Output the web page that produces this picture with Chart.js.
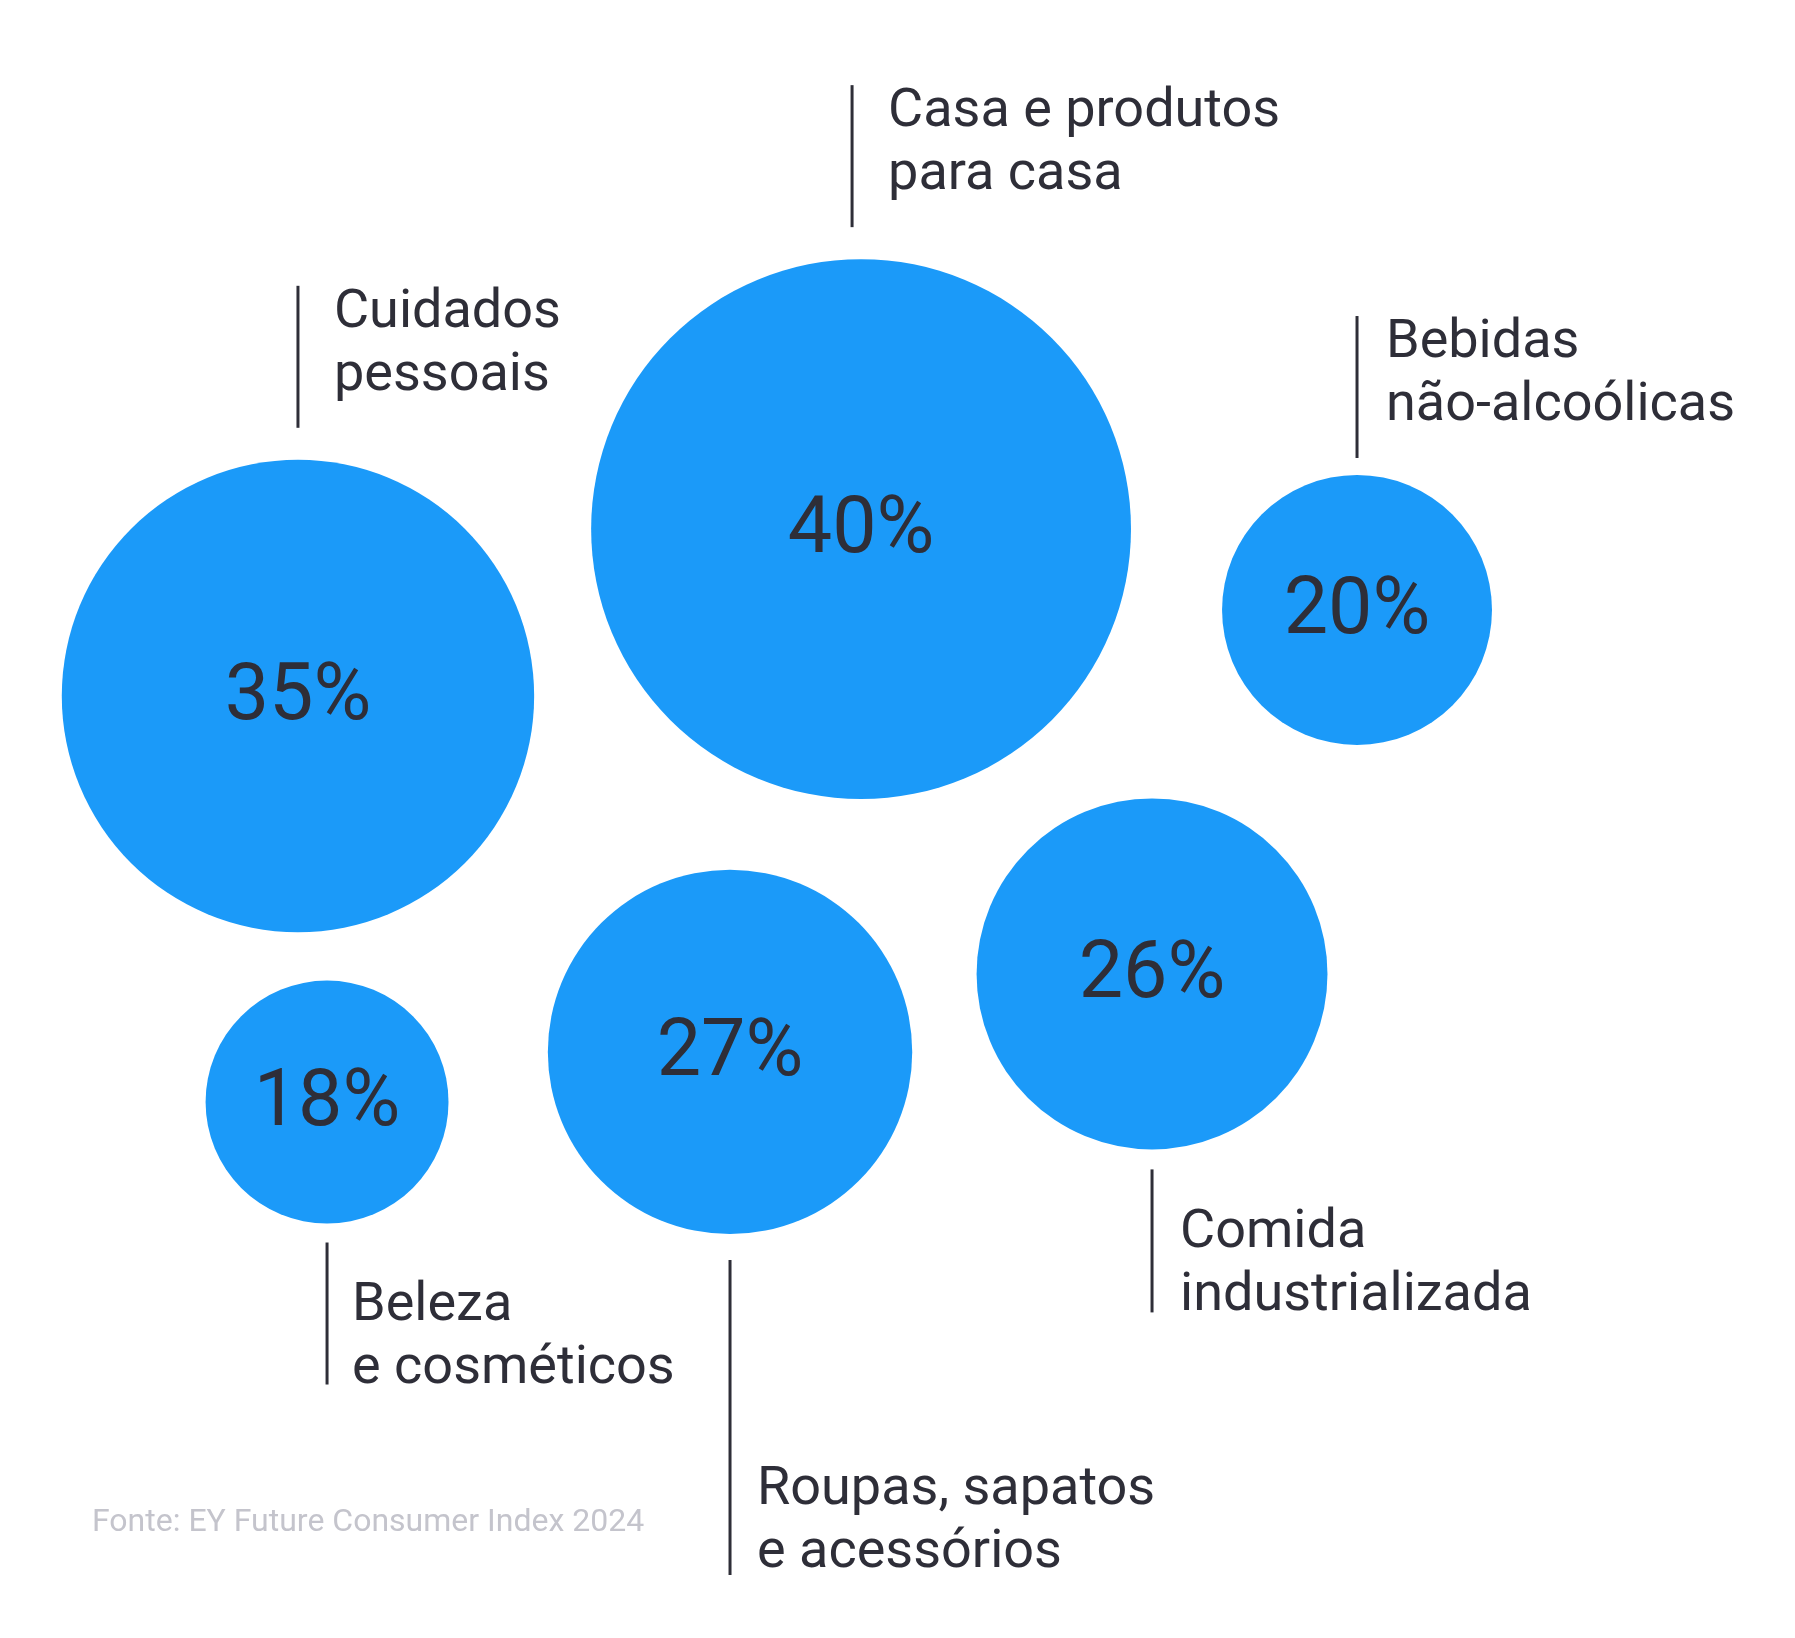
<!DOCTYPE html>
<html>
<head>
<meta charset="utf-8">
<script src="https://cdn.jsdelivr.net/npm/chart.js@4/dist/chart.umd.min.js"></script>
<style>
  html, body { margin: 0; padding: 0; background: #ffffff; }
  #wrap { position: relative; width: 1795px; height: 1638px; }
  canvas { display: block; }
</style>
</head>
<body>
<div id="wrap"><canvas id="c" width="1795" height="1638"></canvas></div>
<script>
// ---- Data ----
const categories = ['Cuidados pessoais', 'Casa e produtos para casa', 'Bebidas não-alcoólicas', 'Beleza e cosméticos', 'Roupas, sapatos e acessórios', 'Comida industrializada'];
const labelLines = [['Cuidados', 'pessoais'], ['Casa e produtos', 'para casa'], ['Bebidas', 'não-alcoólicas'], ['Beleza', 'e cosméticos'], ['Roupas, sapatos', 'e acessórios'], ['Comida', 'industrializada']];
const values = [35, 40, 20, 18, 27, 26];
const xPos = [16.60, 47.97, 75.60, 18.22, 40.67, 64.18];
const yPos = [42.49, 32.30, 37.24, 67.28, 64.22, 59.46];
const sourceText = 'Fonte: EY Future Consumer Index 2024';

// ---- Layout / style (not data) ----
const FONT = 'Roboto, "Noto Sans", sans-serif';
const BLUE = '#1b9af9';
const INK = '#2e2e38';
const GREY = '#c4c4cc';
const labelLayout = [
  { side: 'top', gap: 32, len: 142, lx: 0, dx: 36, ty: 0 },
  { side: 'top', gap: 32, len: 142, lx: -9, dx: 36, ty: 0 },
  { side: 'top', gap: 17, len: 142, lx: 0, dx: 29, ty: 0 },
  { side: 'bottom', gap: 19, len: 142, lx: 0, dx: 25, ty: 0 },
  { side: 'bottom', gap: 26, len: 315, lx: 0, dx: 27, ty: -6 },
  { side: 'bottom', gap: 20, len: 143, lx: 0, dx: 28, ty: 0 }
];

const annotate = {
  id: 'annotate',
  afterDatasetsDraw(chart) {
    const ctx = chart.ctx;
    const meta = chart.getDatasetMeta(0);
    ctx.save();
    meta.data.forEach((pt, i) => {
      const cx = pt.x, cy = pt.y, r = pt.options.radius;
      // value label
      const fs = 79;
      ctx.font = '400 ' + fs + 'px ' + FONT;
      ctx.fillStyle = INK;
      ctx.textAlign = 'center';
      ctx.textBaseline = 'alphabetic';
      ctx.fillText(values[i] + '%', cx, cy + fs * 0.711 / 2 - 5);
      // leader line
      const L = labelLayout[i];
      const lx = cx + L.lx;
      let y1, y2;
      if (L.side === 'top') { y2 = cy - r - L.gap; y1 = y2 - L.len; }
      else { y1 = cy + r + L.gap; y2 = y1 + L.len; }
      ctx.strokeStyle = INK;
      ctx.lineWidth = 3;
      ctx.beginPath();
      ctx.moveTo(lx, y1);
      ctx.lineTo(lx, y2);
      ctx.stroke();
      // category label
      const lfs = 54, lh = 63;
      ctx.font = '400 ' + lfs + 'px ' + FONT;
      ctx.textAlign = 'left';
      const lines = labelLines[i];
      let b1 = L.side === 'top' ? y1 + 41 : y2 - 2 - lh * (lines.length - 1);
      b1 += L.ty;
      lines.forEach((t, k) => ctx.fillText(t, lx + L.dx, b1 + k * lh));
    });
    // source
    ctx.font = '400 32px ' + FONT;
    ctx.fillStyle = GREY;
    ctx.textAlign = 'left';
    ctx.fillText(sourceText, 92, 1531);
    ctx.restore();
  }
};

const rScale = 1795 / 266; // px radius per percentage point

new Chart(document.getElementById('c'), {
  type: 'bubble',
  data: {
    datasets: [{
      label: 'Share',
      data: values.map((v, i) => ({ x: xPos[i], y: yPos[i], r: v * rScale })),
      backgroundColor: BLUE,
      borderWidth: 0,
      hoverBorderWidth: 0,
      clip: false
    }]
  },
  options: {
    responsive: false,
    animation: false,
    events: [],
    layout: { padding: 0, autoPadding: false },
    plugins: { legend: { display: false }, tooltip: { enabled: false } },
    scales: {
      x: { display: false, min: 0, max: 100 },
      y: { display: false, min: 0, max: 100, reverse: true }
    }
  },
  plugins: [annotate]
});
</script>
</body>
</html>
